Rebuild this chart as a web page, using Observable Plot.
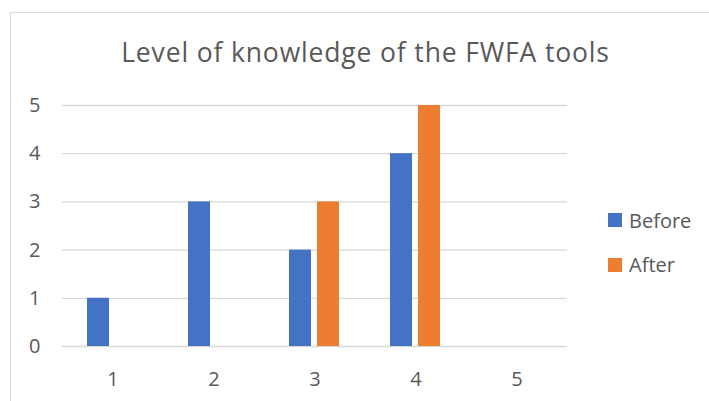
<!DOCTYPE html>
<html>
<head>
<meta charset="utf-8">
<script src="https://cdn.jsdelivr.net/npm/d3@7"></script>
<script src="https://cdn.jsdelivr.net/npm/@observablehq/plot@0.6"></script>
<style>
  html, body { margin: 0; padding: 0; background: #fff; overflow: hidden; width: 709px; height: 401px; }
  #frame { position: absolute; left: 10px; top: 12px; width: 800px; height: 500px; border: 1.5px solid #d9d9d9; box-sizing: border-box; }
  #title { position: absolute; left: 0; width: 731px; top: 38.5px; text-align: center; font-family: "Open Sans", sans-serif; font-size: 26.5px; line-height: 26.5px; letter-spacing: 0.85px; color: #595959; white-space: nowrap; }
  #chart { position: absolute; left: 0; top: 80px; }
  #legend { position: absolute; left: 608px; top: 210px; font-family: "Open Sans", sans-serif; font-size: 20px; color: #595959; }
  .row { display: flex; align-items: center; height: 20px; margin-bottom: 24.5px; }
  .sw { width: 14px; height: 14px; margin-right: 7px; }
</style>
</head>
<body>
<div id="frame"></div>
<div id="title">Level of knowledge of the FWFA tools</div>
<div id="chart"></div>
<div id="legend"></div>
<script>
const categories = ["1", "2", "3", "4", "5"];
const series = ["Before", "After"];
const before = [1, 3, 2, 4, 0];
const after = [0, 0, 3, 5, 0];
const colors = ["#4472C4", "#ED7D31"];
const yTicks = [0, 1, 2, 3, 4, 5];

const data = categories.flatMap((c, i) => [
  {cat: c, series: "Before", value: before[i]},
  {cat: c, series: "After", value: after[i]}
]);

const chart = Plot.plot({
  width: 709,
  height: 321,
  marginLeft: 62,
  marginRight: 142,
  marginTop: 25,
  marginBottom: 55,
  style: {fontFamily: "Open Sans, sans-serif", fontSize: "20px", color: "#595959", background: "transparent"},
  facet: {data, x: "cat"},
  fx: {domain: categories, padding: 0, axis: "bottom", label: null, tickSize: 0, tickPadding: 25},
  x: {domain: series, paddingInner: 0.209, paddingOuter: 0.864, axis: null},
  y: {domain: [0, 5], ticks: yTicks, label: null, tickSize: 0, tickPadding: 22, tickFormat: d => String(d)},
  color: {domain: series, range: colors},
  marks: [
    Plot.ruleY(yTicks, {stroke: "#d9d9d9", strokeWidth: 1.3}),
    Plot.barY(data, {x: "series", y: "value", fill: "series", inset: 0})
  ]
});
document.getElementById("chart").appendChild(chart);

const colorScale = chart.scale("color");
const legend = document.getElementById("legend");
colorScale.domain.forEach((name, i) => {
  const row = document.createElement("div");
  row.className = "row";
  const sw = document.createElement("div");
  sw.className = "sw";
  sw.style.background = colorScale.range[i];
  const label = document.createElement("span");
  label.textContent = name;
  row.appendChild(sw);
  row.appendChild(label);
  legend.appendChild(row);
});
</script>
</body>
</html>
